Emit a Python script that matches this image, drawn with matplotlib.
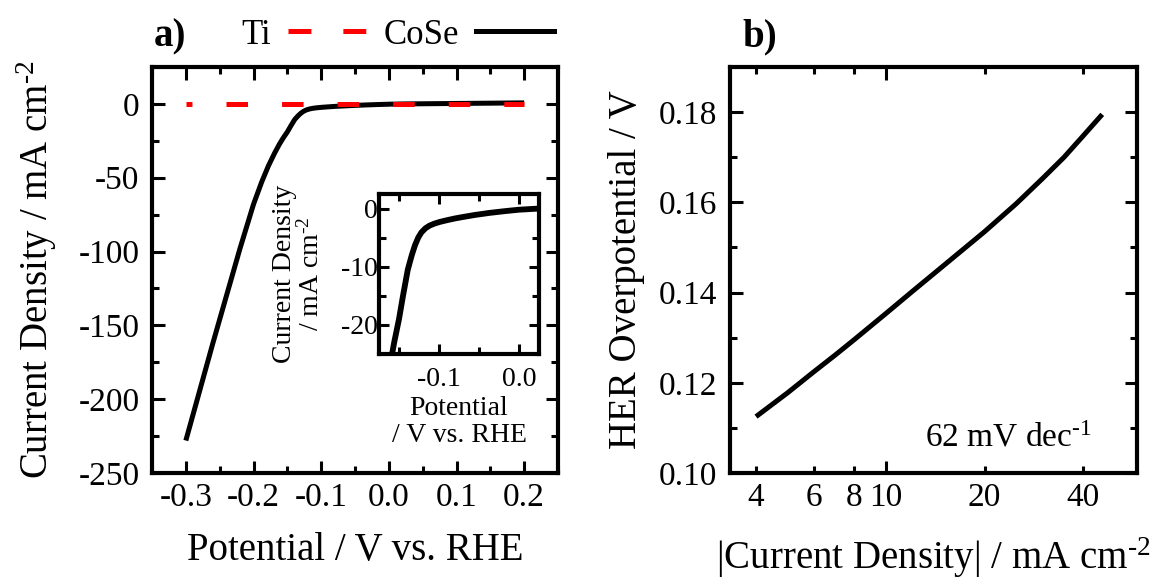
import matplotlib
matplotlib.use("Agg")
import matplotlib.pyplot as plt
from matplotlib.lines import Line2D
from matplotlib.ticker import MultipleLocator, FixedLocator

# ---------------- data ----------------
ti_v = [-0.30, -0.20, -0.10, 0.00, 0.10, 0.20]
ti_j = [0.0, 0.0, 0.0, 0.0, 0.0, 0.0]

cose_v = [-0.300, -0.280, -0.260, -0.240, -0.220, -0.200, -0.188, -0.178,
          -0.169, -0.162, -0.156, -0.150, -0.145, -0.139, -0.134, -0.130,
          -0.126, -0.122, -0.117, -0.112, -0.106, -0.099, -0.090, -0.080,
          -0.070, -0.055, -0.037, -0.018, 0.000, 0.025, 0.050, 0.100,
          0.150, 0.200]
cose_j = [-228, -195, -162, -130, -98, -68, -53, -42,
          -33.5, -27.5, -23, -19, -15, -10.5, -8.0, -6.3,
          -5.0, -4.1, -3.4, -2.95, -2.6, -2.3, -2.0, -1.7,
          -1.45, -1.1, -0.75, -0.45, -0.2, 0.0, 0.1, 0.3,
          0.5, 0.7]

tafel_j = [4, 5, 6, 7, 8, 10, 12, 15, 20, 25, 30, 35, 40, 45.8]
tafel_eta = [0.1125, 0.1178, 0.1224, 0.1262, 0.1296, 0.1354, 0.1402, 0.1460,
             0.1535, 0.1597, 0.1652, 0.1700, 0.1747, 0.1795]

b_xticks = [4, 6, 8, 20, 40]
b_xtick_labels = ["4", "6", "8", "20", "40"]

# ---------------- style ----------------
plt.rcParams['font.family'] = ['Liberation Serif', 'DejaVu Serif']
plt.rcParams['mathtext.fontset'] = 'custom'
plt.rcParams['mathtext.rm'] = 'Liberation Serif'
plt.rcParams['mathtext.it'] = 'Liberation Serif:italic'
plt.rcParams['mathtext.bf'] = 'Liberation Serif:bold'
plt.rcParams['axes.unicode_minus'] = False
plt.rcParams['lines.scale_dashes'] = False

TICK = 24
LAB = 28
SPW = 3.0
LW = 3.6

fig = plt.figure(figsize=(11.57, 5.84), dpi=100)
W, H = 1157, 584

def px_axes(l, r, t, b):
    return [l / W, 1 - b / H, (r - l) / W, (b - t) / H]

def style_ax(ax, size=TICK, maj=9, mnr=5):
    for s in ax.spines.values():
        s.set_linewidth(SPW)
    ax.tick_params(which='both', direction='in', top=True, right=True,
                   width=2.2, labelsize=size)
    ax.tick_params(which='major', length=maj)
    ax.tick_params(which='minor', length=mnr)

# ---------------- panel a ----------------
ax = fig.add_axes(px_axes(152, 558, 67, 473))
ax.plot(cose_v, cose_j, color='black', lw=LW, solid_capstyle='butt', zorder=2)
ax.plot(ti_v, ti_j, color='#ff0000', lw=LW,
        linestyle=(11.2, (15.5, 24.5)), solid_capstyle='butt', zorder=3)
ax.set_xlim(-0.35, 0.25)
ax.set_ylim(-250, 25)
ax.xaxis.set_major_locator(MultipleLocator(0.1))
ax.xaxis.set_minor_locator(MultipleLocator(0.05))
ax.yaxis.set_major_locator(MultipleLocator(50))
ax.yaxis.set_minor_locator(MultipleLocator(25))
ax.set_xticks([-0.3, -0.2, -0.1, 0.0, 0.1, 0.2],
              ["-0.3", "-0.2", "-0.1", "0.0", "0.1", "0.2"])
style_ax(ax)
ax.tick_params(axis='x', pad=7)
ax.tick_params(axis='y', pad=9)
ax.set_xlabel("Potential / V vs. RHE", fontsize=LAB)
ax.xaxis.set_label_coords(0.5, -0.145)
ax.set_ylabel(r"Current Density / mA cm$^{\text{-2}}$", fontsize=LAB)
ax.yaxis.set_label_coords(-0.228, 0.5)

# inset
ins = fig.add_axes(px_axes(379, 539, 194, 354))
ins.plot(cose_v, cose_j, color='black', lw=LW + 0.6, solid_capstyle='butt')
ins.set_xlim(-0.175, 0.025)
ins.set_ylim(-25, 2.5)
ins.xaxis.set_major_locator(MultipleLocator(0.1))
ins.xaxis.set_minor_locator(MultipleLocator(0.05))
ins.yaxis.set_major_locator(MultipleLocator(10))
ins.yaxis.set_minor_locator(MultipleLocator(5))
ins.set_xticks([-0.1, 0.0], ["-0.1", "0.0"])
style_ax(ins, size=20, maj=7, mnr=5)
ins.tick_params(axis='x', pad=9)
ins.tick_params(axis='y', pad=1)
ins.set_xlabel("Potential\n/ V vs. RHE", fontsize=20, linespacing=1.15)
ins.xaxis.set_label_coords(0.5, -0.26)
ins.set_ylabel("Current Density\n" + r"/ mA cm$^{\text{-2}}$", fontsize=20,
               linespacing=1.05)
ins.yaxis.set_label_coords(-0.34, 0.5)

# legend
h_ti = Line2D([], [], color='#ff0000', lw=LW, linestyle=(0, (16.5, 23.0)))
h_co = Line2D([], [], color='black', lw=LW)
fig.legend([h_ti, h_co], ["Ti", "CoSe"], ncol=2, markerfirst=False,
           frameon=False, fontsize=25, loc='center left',
           bbox_to_anchor=(241 / W, 1 - 35 / H), borderpad=0,
           borderaxespad=0, handlelength=2.25, handletextpad=0.5,
           columnspacing=0.5)
fig.text(154 / W, 1 - 37 / H, "a)", fontsize=28, fontweight='bold',
         va='center', ha='left')

# ---------------- panel b ----------------
bx = fig.add_axes(px_axes(730, 1137, 67, 473))
bx.plot(tafel_j, tafel_eta, color='black', lw=LW, solid_capstyle='butt')
bx.set_xscale('log')
bx.set_xlim(3.33, 58.5)
bx.set_ylim(0.10, 0.19)
bx.xaxis.set_major_locator(FixedLocator([10]))
bx.xaxis.set_minor_locator(FixedLocator(b_xticks))
bx.set_xticks([10], ["10"])
bx.set_xticks(b_xticks, b_xtick_labels, minor=True)
bx.yaxis.set_major_locator(MultipleLocator(0.02))
bx.yaxis.set_minor_locator(MultipleLocator(0.01))
bx.set_yticks([0.10, 0.12, 0.14, 0.16, 0.18],
              ["0.10", "0.12", "0.14", "0.16", "0.18"])
style_ax(bx)
bx.tick_params(axis='x', which='both', pad=7)
bx.tick_params(axis='y', pad=9)
bx.set_xlabel(r"|Current Density| / mA cm$^{\text{-2}}$", fontsize=LAB)
bx.xaxis.set_label_coords(0.5, -0.155)
bx.set_ylabel("HER Overpotential / V", fontsize=LAB)
bx.yaxis.set_label_coords(-0.209, 0.5)
bx.text(0.48, 0.085, r"62 mV dec$^{\text{-1}}$", transform=bx.transAxes,
        fontsize=24, ha='left', va='center')
fig.text(742 / W, 1 - 37 / H, "b)", fontsize=28, fontweight='bold',
         va='center', ha='left')

fig.savefig("out.png", dpi=100)
